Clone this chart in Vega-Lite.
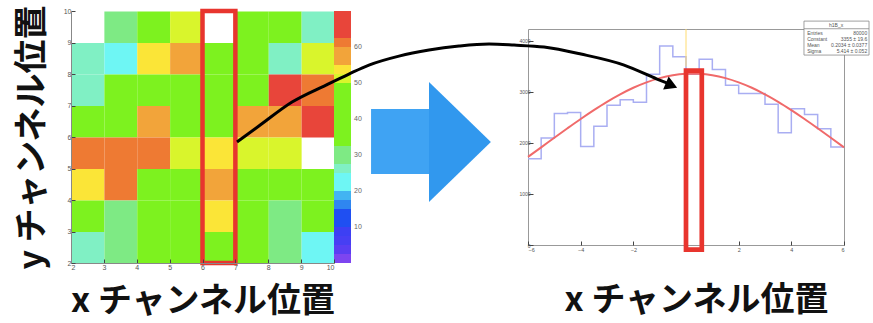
{
  "$schema": "https://vega.github.io/schema/vega-lite/v6.json",
  "padding": {"left": 15, "top": 4, "right": 0, "bottom": 0},
  "autosize": {"type": "pad"},
  "background": "white",
  "bounds": "flush",
  "center": true,
  "spacing": 194,
  "resolve": {"legend": {"color": "independent"}, "scale": {"color": "independent"}},
  "config": {
    "view": {"stroke": null},
    "font": "Liberation Sans",
    "axis": {
      "grid": false,
      "labelFont": "Liberation Sans",
      "labelColor": "#555",
      "labelOverlap": false,
      "domainColor": "#888",
      "tickColor": "#444",
      "titleFont": "Noto Sans CJK JP",
      "titleFontWeight": "bold",
      "titleFontSize": 34,
      "titleColor": "#111",
      "titleLineHeight": 34
    }
  },
  "hconcat": [
    {
      "width": 263,
      "height": 252,
      "layer": [
        {
          "data": {"values": [
            {"x": 2.5, "y": 9.5, "c": 0}, {"x": 3.5, "y": 9.5, "c": 30}, {"x": 4.5, "y": 9.5, "c": 40}, {"x": 5.5, "y": 9.5, "c": 51},
            {"x": 6.5, "y": 9.5, "c": 0}, {"x": 7.5, "y": 9.5, "c": 40}, {"x": 8.5, "y": 9.5, "c": 40}, {"x": 9.5, "y": 9.5, "c": 26},
            {"x": 2.5, "y": 8.5, "c": 26}, {"x": 3.5, "y": 8.5, "c": 21}, {"x": 4.5, "y": 8.5, "c": 54}, {"x": 5.5, "y": 8.5, "c": 58},
            {"x": 6.5, "y": 8.5, "c": 40}, {"x": 7.5, "y": 8.5, "c": 40}, {"x": 8.5, "y": 8.5, "c": 26}, {"x": 9.5, "y": 8.5, "c": 51},
            {"x": 2.5, "y": 7.5, "c": 26}, {"x": 3.5, "y": 7.5, "c": 40}, {"x": 4.5, "y": 7.5, "c": 40}, {"x": 5.5, "y": 7.5, "c": 40},
            {"x": 6.5, "y": 7.5, "c": 40}, {"x": 7.5, "y": 7.5, "c": 40}, {"x": 8.5, "y": 7.5, "c": 66}, {"x": 9.5, "y": 7.5, "c": 61},
            {"x": 2.5, "y": 6.5, "c": 40}, {"x": 3.5, "y": 6.5, "c": 40}, {"x": 4.5, "y": 6.5, "c": 58}, {"x": 5.5, "y": 6.5, "c": 40},
            {"x": 6.5, "y": 6.5, "c": 40}, {"x": 7.5, "y": 6.5, "c": 58}, {"x": 8.5, "y": 6.5, "c": 58}, {"x": 9.5, "y": 6.5, "c": 66},
            {"x": 2.5, "y": 5.5, "c": 61}, {"x": 3.5, "y": 5.5, "c": 61}, {"x": 4.5, "y": 5.5, "c": 61}, {"x": 5.5, "y": 5.5, "c": 51},
            {"x": 6.5, "y": 5.5, "c": 54}, {"x": 7.5, "y": 5.5, "c": 51}, {"x": 8.5, "y": 5.5, "c": 51}, {"x": 9.5, "y": 5.5, "c": 0},
            {"x": 2.5, "y": 4.5, "c": 54}, {"x": 3.5, "y": 4.5, "c": 61}, {"x": 4.5, "y": 4.5, "c": 40}, {"x": 5.5, "y": 4.5, "c": 40},
            {"x": 6.5, "y": 4.5, "c": 58}, {"x": 7.5, "y": 4.5, "c": 40}, {"x": 8.5, "y": 4.5, "c": 40}, {"x": 9.5, "y": 4.5, "c": 40},
            {"x": 2.5, "y": 3.5, "c": 40}, {"x": 3.5, "y": 3.5, "c": 30}, {"x": 4.5, "y": 3.5, "c": 40}, {"x": 5.5, "y": 3.5, "c": 40},
            {"x": 6.5, "y": 3.5, "c": 54}, {"x": 7.5, "y": 3.5, "c": 40}, {"x": 8.5, "y": 3.5, "c": 30}, {"x": 9.5, "y": 3.5, "c": 40},
            {"x": 2.5, "y": 2.5, "c": 26}, {"x": 3.5, "y": 2.5, "c": 30}, {"x": 4.5, "y": 2.5, "c": 40}, {"x": 5.5, "y": 2.5, "c": 40},
            {"x": 6.5, "y": 2.5, "c": 40}, {"x": 7.5, "y": 2.5, "c": 40}, {"x": 8.5, "y": 2.5, "c": 30}, {"x": 9.5, "y": 2.5, "c": 21}
          ]},
          "transform": [{"filter": "datum.c > 0"}],
          "mark": {"type": "rect"},
          "encoding": {
            "x": {
              "field": "x", "type": "quantitative",
              "bin": {"step": 1, "extent": [2, 10]},
              "scale": {"domain": [2, 10], "nice": false, "zero": false},
              "axis": {"title": "x チャンネル位置", "values": [2, 3, 4, 5, 6, 7, 8, 9, 10], "format": "d",
                       "labelFontSize": 7, "tickSize": -4, "labelPadding": 4, "titlePadding": 14}
            },
            "y": {
              "field": "y", "type": "quantitative",
              "bin": {"step": 1, "extent": [2, 10]},
              "scale": {"domain": [2, 10], "nice": false, "zero": false},
              "axis": {"title": "y チャンネル位置", "values": [2, 3, 4, 5, 6, 7, 8, 9, 10], "format": "d",
                       "labelFontSize": 7, "tickSize": -4, "labelPadding": 4, "titlePadding": 14}
            },
            "color": {
              "field": "c", "type": "quantitative",
              "scale": {
                "type": "quantize", "domain": [0, 70],
                "range": ["#7d45f0", "#5a3ef2", "#473ff3", "#3d40f3", "#1f4ff2", "#1f4ff2", "#2f86f0", "#42b4f2",
                          "#6ef6f4", "#6ef6f4", "#80f0c4", "#7eea84", "#7eea84", "#7df21f", "#7df21f", "#7df21f",
                          "#7df21f", "#7df21f", "#7df21f", "#7df21f", "#d9f52c", "#fbe537", "#f2a43a", "#f2a43a",
                          "#ee7a33", "#e8453a", "#e8453a", "#e8453a"]
              },
              "legend": {
                "type": "gradient", "direction": "vertical", "orient": "right", "offset": 0, "padding": 0,
                "title": null, "gradientLength": 252, "gradientThickness": 17, "gradientStrokeWidth": 0,
                "labelFontSize": 7, "labelColor": "#666", "labelOffset": 3, "labelOverlap": false,
                "labelExpr": "datum.value % 10 === 0 ? datum.label : ''"
              }
            }
          }
        },
        {
          "data": {"values": [{}]},
          "mark": {"type": "rect", "fillOpacity": 0, "stroke": "#e8352e", "strokeWidth": 4.5},
          "encoding": {
            "x": {"datum": 6, "type": "quantitative"},
            "x2": {"datum": 7},
            "y": {"datum": 2, "type": "quantitative"},
            "y2": {"datum": 10}
          }
        }
      ]
    },
    {
      "width": 316,
      "height": 216,
      "view": {"stroke": "#999", "strokeWidth": 1},
      "layer": [
        {
          "data": {"values": [
            {"x": -6, "n": 1690}, {"x": -5.5, "n": 2100}, {"x": -5, "n": 2580}, {"x": -4.5, "n": 2600},
            {"x": -4, "n": 1930}, {"x": -3.5, "n": 2330}, {"x": -3, "n": 2740}, {"x": -2.5, "n": 2850},
            {"x": -2, "n": 2800}, {"x": -1.5, "n": 3350}, {"x": -1, "n": 3900}, {"x": -0.5, "n": 3690},
            {"x": 0, "n": 3350}, {"x": 0.5, "n": 3640}, {"x": 1, "n": 3440}, {"x": 1.5, "n": 3130},
            {"x": 2, "n": 2970}, {"x": 2.5, "n": 2970}, {"x": 3, "n": 2760}, {"x": 3.5, "n": 2200},
            {"x": 4, "n": 2670}, {"x": 4.5, "n": 2560}, {"x": 5, "n": 2280}, {"x": 5.5, "n": 1920},
            {"x": 6, "n": 1920}
          ]},
          "mark": {"type": "line", "interpolate": "step-after", "color": "#a9aef2", "strokeWidth": 1.5},
          "encoding": {
            "x": {
              "field": "x", "type": "quantitative",
              "scale": {"domain": [-6, 6], "nice": false, "zero": false},
              "axis": {"title": "x チャンネル位置", "values": [-6, -4, -2, 0, 2, 4, 6], "format": "d",
                       "labelFontSize": 5.5, "tickSize": -4, "labelPadding": 6, "titlePadding": 31,
                       "labelFlush": true, "titleX": 168, "domain": false}
            },
            "y": {
              "field": "n", "type": "quantitative",
              "scale": {"domain": [0, 4235], "nice": false, "zero": true},
              "axis": {"title": null, "values": [0, 500, 1000, 1500, 2000, 2500, 3000, 3500, 4000], "format": "d",
                       "labelFontSize": 5, "tickSize": -5, "labelPadding": 3, "domain": false}
            }
          }
        },
        {
          "data": {"values": [
            {"x": -6, "f": 1729}, {"x": -5.5, "f": 1915}, {"x": -5, "f": 2103}, {"x": -4.5, "f": 2289},
            {"x": -4, "f": 2471}, {"x": -3.5, "f": 2645}, {"x": -3, "f": 2808}, {"x": -2.5, "f": 2954},
            {"x": -2, "f": 3083}, {"x": -1.5, "f": 3189}, {"x": -1, "f": 3272}, {"x": -0.5, "f": 3328},
            {"x": 0, "f": 3356}, {"x": 0.25, "f": 3360}, {"x": 0.5, "f": 3356}, {"x": 1, "f": 3328},
            {"x": 1.5, "f": 3272}, {"x": 2, "f": 3189}, {"x": 2.5, "f": 3083}, {"x": 3, "f": 2954},
            {"x": 3.5, "f": 2808}, {"x": 4, "f": 2645}, {"x": 4.5, "f": 2471}, {"x": 5, "f": 2289},
            {"x": 5.5, "f": 2103}, {"x": 6, "f": 1915}
          ]},
          "mark": {"type": "line", "interpolate": "monotone", "color": "#f06a6a", "strokeWidth": 2},
          "encoding": {
            "x": {"field": "x", "type": "quantitative"},
            "y": {"field": "f", "type": "quantitative"}
          }
        },
        {
          "data": {"values": [{}]},
          "mark": {"type": "rule", "color": "#ffdc70", "strokeWidth": 1},
          "encoding": {
            "x": {"datum": 0, "type": "quantitative"},
            "y": {"datum": 3500, "type": "quantitative"},
            "y2": {"datum": 4235}
          }
        },
        {
          "data": {"values": [{}]},
          "mark": {"type": "rect", "fillOpacity": 0, "stroke": "#e8352e", "strokeWidth": 4.7, "clip": false},
          "encoding": {
            "x": {"datum": 0, "type": "quantitative"},
            "x2": {"datum": 0.6},
            "y": {"datum": -90, "type": "quantitative"},
            "y2": {"datum": 3420}
          }
        },
        {
          "data": {"values": [{}]},
          "mark": {"type": "rect", "fill": "white", "stroke": "#888", "strokeWidth": 0.8, "clip": false},
          "encoding": {
            "x": {"datum": 4.48, "type": "quantitative"},
            "x2": {"datum": 6.95},
            "y": {"datum": 3724, "type": "quantitative"},
            "y2": {"datum": 4390}
          }
        },
        {
          "data": {"values": [{}]},
          "mark": {"type": "rule", "color": "#888", "strokeWidth": 0.8, "clip": false},
          "encoding": {
            "x": {"datum": 4.48, "type": "quantitative"},
            "x2": {"datum": 6.95},
            "y": {"datum": 4240, "type": "quantitative"}
          }
        },
        {
          "data": {"values": [{}]},
          "mark": {"type": "text", "text": "h1B_x", "fontSize": 5, "color": "#555", "clip": false},
          "encoding": {
            "x": {"datum": 5.7, "type": "quantitative"},
            "y": {"datum": 4318, "type": "quantitative"}
          }
        },
        {
          "data": {"values": [{}]},
          "mark": {"type": "text", "text": ["Entries", "Constant", "Mean", "Sigma"], "fontSize": 5, "lineHeight": 6.3,
                   "align": "left", "baseline": "top", "color": "#555", "clip": false},
          "encoding": {
            "x": {"datum": 4.6, "type": "quantitative"},
            "y": {"datum": 4204, "type": "quantitative"}
          }
        },
        {
          "data": {"values": [{}]},
          "mark": {"type": "text", "text": ["80000", "3355 ± 19.6", "0.2034 ± 0.0377", "5.414 ± 0.052"], "fontSize": 5, "lineHeight": 6.3,
                   "align": "right", "baseline": "top", "color": "#555", "clip": false},
          "encoding": {
            "x": {"datum": 6.88, "type": "quantitative"},
            "y": {"datum": 4204, "type": "quantitative"}
          }
        },
        {
          "data": {"values": [{}]},
          "mark": {"type": "rect", "color": "#3fa3f3", "clip": false},
          "encoding": {
            "x": {"datum": -11.96, "type": "quantitative"},
            "x2": {"datum": -9.74},
            "y": {"datum": 1392, "type": "quantitative"},
            "y2": {"datum": 2666}
          }
        },
        {
          "data": {"values": [
            {"x": -9.76, "top": 3195, "bottom": 843},
            {"x": -7.41, "top": 2019, "bottom": 2019}
          ]},
          "mark": {"type": "area", "interpolate": "linear", "clip": false, "color": "#3198ee", "opacity": 1},
          "encoding": {
            "x": {"field": "x", "type": "quantitative"},
            "y": {"field": "top", "type": "quantitative"},
            "y2": {"field": "bottom"}
          }
        },
        {
          "data": {"values": [
            {"x": -17.05, "y": 2019}, {"x": -16.22, "y": 2332}, {"x": -14.96, "y": 2803}, {"x": -13.67, "y": 3136},
            {"x": -12.8, "y": 3352}, {"x": -12.04, "y": 3528}, {"x": -10.9, "y": 3704}, {"x": -9.76, "y": 3822},
            {"x": -8.62, "y": 3900}, {"x": -7.48, "y": 3940}, {"x": -6.53, "y": 3920}, {"x": -5.39, "y": 3881},
            {"x": -3.99, "y": 3744}, {"x": -2.35, "y": 3528}, {"x": -1.1, "y": 3254}, {"x": -0.6, "y": 3150}
          ]},
          "mark": {"type": "line", "interpolate": "monotone", "color": "black", "strokeWidth": 3, "clip": false},
          "encoding": {
            "x": {"field": "x", "type": "quantitative"},
            "y": {"field": "y", "type": "quantitative"}
          }
        },
        {
          "data": {"values": [{}]},
          "mark": {"type": "point", "shape": "triangle-right", "filled": true, "color": "black", "opacity": 1,
                   "size": 200, "angle": 23, "clip": false},
          "encoding": {
            "x": {"datum": -0.55, "type": "quantitative"},
            "y": {"datum": 3130, "type": "quantitative"}
          }
        }
      ]
    }
  ]
}
